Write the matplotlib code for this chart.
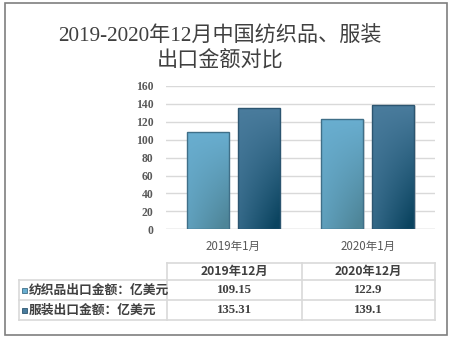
import numpy as np
import matplotlib
matplotlib.use("Agg")
import matplotlib.pyplot as plt
from matplotlib.patches import Rectangle
from matplotlib.colors import to_rgb

plt.rcParams['font.family'] = ['Noto Sans CJK SC', 'DejaVu Sans']

# ---- data ----
categories = ["2019年1月", "2020年1月"]
table_columns = ["2019年12月", "2020年12月"]
series_names = ["纺织品出口金额：亿美元", "服装出口金额：亿美元"]
textile = [109.15, 122.9]
apparel = [135.31, 139.1]
title = "2019-2020年12月中国纺织品、服装\n出口金额对比"
yticks = [0, 20, 40, 60, 80, 100, 120, 140, 160]

# gradient colours (top, bottom-right, edge) per series
styles = [
    ("#69aed0", "#4e8598", "#3f6f88"),
    ("#4a7c9d", "#0b4460", "#2c5570"),
]

W, H = 454, 337
fig = plt.figure(figsize=(W / 100, H / 100), dpi=100)
fig.patch.set_facecolor("white")


def fx(px):
    return px / W


def fy(py):
    return 1 - py / H


# outer frame
fig.patches.append(Rectangle((fx(5), fy(335)), fx(442), 332 / H, transform=fig.transFigure,
                             fill=False, edgecolor="#7f7f7f", linewidth=1.2))

# title
fig.text(fx(220), fy(49), title, ha="center", va="center", fontsize=15.2,
         color="#404040", linespacing=1.25,
         family=["Liberation Serif", "Noto Sans CJK SC"])

# plot area
ax = fig.add_axes([fx(166), fy(229.3), fx(269), (229.3 - 86) / H])
ax.set_xlim(-0.5, 1.5)
ax.set_ylim(0, 160)
ax.set_yticks(yticks)
ax.set_yticklabels([str(v) for v in yticks], family="Liberation Serif",
                   fontweight="bold", fontsize=8.4, color="#595959")
ax.tick_params(axis="y", length=0, pad=9)
ax.tick_params(axis="x", length=0, pad=8)
ax.set_xticks(range(len(categories)))
ax.set_xticklabels(categories, fontsize=8.3, color="#595959")
ax.grid(axis="y", color="#d9d9d9", linewidth=1)
ax.set_axisbelow(True)
for s in ax.spines.values():
    s.set_visible(False)
ax.axhline(0, color="#d9d9d9", linewidth=1, zorder=1)


def gradient_image(top, bottom):
    top = np.array(to_rgb(top))
    bottom = np.array(to_rgb(bottom))
    ny, nx = 80, 40
    yy, xx = np.mgrid[0:1:complex(0, ny), 0:1:complex(0, nx)]
    t = np.clip(yy * (0.35 + 0.75 * xx), 0, 1)
    return top[None, None, :] * (1 - t[..., None]) + bottom[None, None, :] * t[..., None]


bw = 0.31
offs = [-0.19, 0.19]
for si, vals in enumerate([textile, apparel]):
    top, bot, edge = styles[si]
    img = gradient_image(top, bot)
    for ci, v in enumerate(vals):
        x0 = ci + offs[si] - bw / 2
        # soft shadow
        ax.add_patch(Rectangle((x0 + 0.012, -1.2), bw, v, facecolor="#c8c8c8",
                               edgecolor="none", alpha=0.6, zorder=2))
        im = ax.imshow(img, extent=(x0, x0 + bw, 0, v), origin="upper",
                       aspect="auto", zorder=3, interpolation="bilinear")
        rect = Rectangle((x0, 0), bw, v, facecolor="none", edgecolor=edge,
                         linewidth=1.0, zorder=4)
        ax.add_patch(rect)
        im.set_clip_path(rect)
ax.set_xlim(-0.5, 1.5)
ax.set_ylim(0, 160)

# data table
line_c = "#d9d9d9"
xs = [19.3, 166.5, 301.5, 435]
ys = [263, 280, 300, 320]


def hline(x0, x1, y):
    fig.add_artist(plt.Line2D([fx(x0), fx(x1)], [fy(y), fy(y)], color=line_c, linewidth=1.2))


def vline(x, y0, y1):
    fig.add_artist(plt.Line2D([fx(x), fx(x)], [fy(y0), fy(y1)], color=line_c, linewidth=1.2))


hline(xs[1], xs[3], ys[0])
for y in ys[1:]:
    hline(xs[0], xs[3], y)
vline(xs[0], ys[1], ys[3])
for x in xs[1:]:
    vline(x, ys[0], ys[3])

txt_kw = dict(color="#404040", fontweight="bold", va="center")
for ci, col in enumerate(table_columns):
    fig.text(fx((xs[ci + 1] + xs[ci + 2]) / 2), fy((ys[0] + ys[1]) / 2), col,
             ha="center", fontsize=8.8, **txt_kw)

for si, (name, vals) in enumerate(zip(series_names, [textile, apparel])):
    yc = (ys[si + 1] + ys[si + 2]) / 2
    top, bot, edge = styles[si]
    fig.patches.append(Rectangle((fx(22), fy(yc + 2.8)), fx(5), 5 / H, transform=fig.transFigure,
                                 facecolor=top, edgecolor=edge, linewidth=0.6))
    fig.text(fx(28.5), fy(yc), name, ha="left", fontsize=9.2, **txt_kw)
    for ci, v in enumerate(vals):
        fig.text(fx((xs[ci + 1] + xs[ci + 2]) / 2), fy(yc), f"{v:g}",
                 ha="center", fontsize=9.2,
                 family=["Liberation Serif", "Noto Sans CJK SC"], **txt_kw)

fig.savefig("out.png", dpi=100)
